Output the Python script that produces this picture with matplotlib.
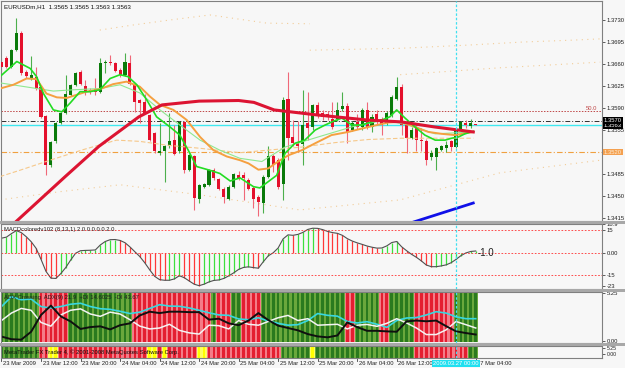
import matplotlib
matplotlib.use("Agg")
import matplotlib.pyplot as plt
from matplotlib import font_manager
from matplotlib.patches import Rectangle
from matplotlib.transforms import blended_transform_factory
import numpy as np

W, H = 625, 368
BG = '#f7f7f7'

_names = {f.name for f in font_manager.fontManager.ttflist}
if 'Liberation Sans Narrow' in _names:
    plt.rcParams['font.family'] = ['Liberation Sans Narrow', 'DejaVu Sans']
    FS = 5.0
else:
    plt.rcParams['font.family'] = ['Liberation Sans', 'DejaVu Sans']
    FS = 4.2

# ---- EURUSDm H1 candles, 23 Mar 04:00 .. 27 Mar 04:00 ----
open_ = [1.3664, 1.3669, 1.3656, 1.3682, 1.3709, 1.3648, 1.3638, 1.3640, 1.3624, 1.3577,
         1.3500, 1.3537, 1.3566, 1.3582, 1.3611, 1.3627, 1.3648, 1.3625, 1.3618, 1.3621,
         1.3616, 1.3662, 1.3664, 1.3661, 1.3651, 1.3643, 1.3661, 1.3628, 1.3603, 1.3600,
         1.3579, 1.3550, 1.3519, 1.3521, 1.3529, 1.3539, 1.3521, 1.3568, 1.3492, 1.3514,
         1.3446, 1.3465, 1.3468, 1.3492, 1.3477, 1.3462, 1.3445, 1.3465, 1.3484, 1.3484,
         1.3475, 1.3463, 1.3449, 1.3439, 1.3481, 1.3514, 1.3507, 1.3470, 1.3604, 1.3544,
         1.3536, 1.3533, 1.3566, 1.3560, 1.3595, 1.3582, 1.3580, 1.3572, 1.3572, 1.3588,
         1.3594, 1.3555, 1.3568, 1.3560, 1.3587, 1.3560, 1.3581, 1.3573, 1.3566, 1.3579,
         1.3604, 1.3624, 1.3563, 1.3542, 1.3560, 1.3539, 1.3537, 1.3512, 1.3512, 1.3523,
         1.3527, 1.3537, 1.3528, 1.3555, 1.3566, 1.3561, 1.3565]
high = [1.3669, 1.3672, 1.3684, 1.3733, 1.3712, 1.3650, 1.3672, 1.3656, 1.3626, 1.3579,
        1.3538, 1.3568, 1.3584, 1.3643, 1.3629, 1.3648, 1.3650, 1.3635, 1.3622, 1.3637,
        1.3670, 1.3666, 1.3674, 1.3663, 1.3653, 1.3677, 1.3674, 1.3630, 1.3605, 1.3613,
        1.3581, 1.3552, 1.3566, 1.3532, 1.3582, 1.3563, 1.3570, 1.3570, 1.3517, 1.3516,
        1.3470, 1.3471, 1.3493, 1.3494, 1.3479, 1.3464, 1.3467, 1.3487, 1.3490, 1.3489,
        1.3479, 1.3466, 1.3451, 1.3484, 1.3530, 1.3517, 1.3510, 1.3607, 1.3648, 1.3571,
        1.3569, 1.3618, 1.3616, 1.3597, 1.3600, 1.3587, 1.3585, 1.3600, 1.3600, 1.3615,
        1.3598, 1.3570, 1.3581, 1.3590, 1.3599, 1.3580, 1.3587, 1.3576, 1.3585, 1.3610,
        1.3640, 1.3628, 1.3566, 1.3560, 1.3566, 1.3558, 1.3541, 1.3523, 1.3528, 1.3532,
        1.3537, 1.3539, 1.3557, 1.3570, 1.3571, 1.3573, 1.3565]
low = [1.3648, 1.3653, 1.3654, 1.3680, 1.3643, 1.3638, 1.3635, 1.3619, 1.3574, 1.3484,
       1.3497, 1.3535, 1.3564, 1.3580, 1.3609, 1.3625, 1.3627, 1.3611, 1.3613, 1.3611,
       1.3614, 1.3645, 1.3659, 1.3647, 1.3640, 1.3641, 1.3627, 1.3584, 1.3566, 1.3580,
       1.3537, 1.3519, 1.3515, 1.3473, 1.3527, 1.3515, 1.3519, 1.3486, 1.3490, 1.3428,
       1.3439, 1.3463, 1.3466, 1.3476, 1.3460, 1.3439, 1.3443, 1.3463, 1.3476, 1.3444,
       1.3460, 1.3431, 1.3418, 1.3423, 1.3479, 1.3489, 1.3462, 1.3444, 1.3507, 1.3530,
       1.3520, 1.3500, 1.3539, 1.3555, 1.3574, 1.3571, 1.3571, 1.3557, 1.3570, 1.3585,
       1.3534, 1.3553, 1.3557, 1.3555, 1.3557, 1.3552, 1.3563, 1.3547, 1.3563, 1.3576,
       1.3602, 1.3547, 1.3518, 1.3540, 1.3521, 1.3521, 1.3499, 1.3508, 1.3491, 1.3521,
       1.3520, 1.3521, 1.3526, 1.3553, 1.3558, 1.3559, 1.3563]
close = [1.3656, 1.3656, 1.3682, 1.3709, 1.3646, 1.3641, 1.3643, 1.3621, 1.3576, 1.3500,
         1.3536, 1.3566, 1.3582, 1.3613, 1.3627, 1.3646, 1.3629, 1.3616, 1.3617, 1.3616,
         1.3661, 1.3663, 1.3661, 1.3649, 1.3643, 1.3664, 1.3629, 1.3600, 1.3598, 1.3582,
         1.3539, 1.3521, 1.3522, 1.3530, 1.3537, 1.3517, 1.3568, 1.3492, 1.3515, 1.3447,
         1.3467, 1.3469, 1.3491, 1.3478, 1.3462, 1.3449, 1.3465, 1.3485, 1.3478, 1.3478,
         1.3462, 1.3446, 1.3441, 1.3481, 1.3513, 1.3500, 1.3465, 1.3603, 1.3542, 1.3535,
         1.3530, 1.3563, 1.3558, 1.3595, 1.3577, 1.3575, 1.3576, 1.3560, 1.3587, 1.3593,
         1.3552, 1.3566, 1.3560, 1.3587, 1.3560, 1.3576, 1.3568, 1.3563, 1.3582, 1.3607,
         1.3624, 1.3563, 1.3542, 1.3555, 1.3539, 1.3537, 1.3508, 1.3518, 1.3526, 1.3530,
         1.3531, 1.3528, 1.3555, 1.3568, 1.3563, 1.3566, 1.3563]

# moving averages read at sample points (bar index, price)
ma_red_x = [0, 3.3, 12.9, 19.7, 27.8, 32.5, 40, 48, 51.1, 55.2, 63.9, 74, 80.9, 87.6, 95.5]
ma_red_y = [1.3388, 1.3412, 1.3481, 1.3529, 1.3576, 1.3595, 1.3601, 1.3602, 1.3599, 1.3587,
            1.3579, 1.3571, 1.3568, 1.3560, 1.3552]
ma_green_x = [-0.3, 3.1, 5.8, 7.1, 8.5, 10.5, 12.2, 13.9, 15.9, 17.9, 19.9, 22, 24, 25.6, 27.4,
              29.4, 31.4, 34.1, 36.1, 37.8, 39.5, 42.2, 44.2, 46.3, 48.3, 51, 52.3, 54, 55.7,
              57.4, 59.4, 61.4, 63.5, 65.5, 67.5, 68.9, 70.9, 72.9, 74.9, 77, 78.6, 80, 81.7,
              83.7, 85.7, 87.8, 89.8, 91.1, 92.5, 93.8, 95.5]
ma_green_y = [1.3640, 1.3664, 1.3653, 1.3640, 1.3613, 1.3587, 1.3584, 1.3598, 1.3616, 1.3616,
              1.3619, 1.3637, 1.3643, 1.3640, 1.3627, 1.3603, 1.3576, 1.3560, 1.3547, 1.3523,
              1.3497, 1.3491, 1.3486, 1.3474, 1.3479, 1.3465, 1.3463, 1.3473, 1.3483, 1.3518,
              1.3534, 1.3539, 1.3555, 1.3563, 1.3570, 1.3574, 1.3563, 1.3563, 1.3568, 1.3571,
              1.3576, 1.3587, 1.3574, 1.3560, 1.3547, 1.3539, 1.3539, 1.3542, 1.3544, 1.3549,
              1.3553]
ma_orange_x = [-0.3, 2.4, 5.1, 7.1, 9.1, 11.2, 13.2, 15.2, 17.2, 19.9, 22.6, 25.3, 28, 30.1,
               32.1, 34.8, 37.5, 40.2, 42.9, 45.6, 48.3, 50, 52, 54, 56, 58.1, 60.8, 63.5,
               66.8, 70.2, 74.3, 78.3, 81, 83.7, 86.4, 89.1, 91.8, 95.5]
ma_orange_y = [1.3621, 1.3627, 1.3637, 1.3636, 1.3613, 1.3607, 1.3606, 1.3611, 1.3616, 1.3620,
               1.3628, 1.3632, 1.3624, 1.3608, 1.3595, 1.3587, 1.3571, 1.3544, 1.3523, 1.3513,
               1.3507, 1.3502, 1.3492, 1.3494, 1.3505, 1.3515, 1.3523, 1.3534, 1.3547, 1.3552,
               1.3560, 1.3567, 1.3568, 1.3560, 1.3552, 1.3549, 1.3547, 1.3552]
ma_pale_x = [-0.3, 10.5, 14.5, 19.9, 24, 28, 32.1, 36.1, 40.2, 44.2, 48.3, 52.7, 57.4, 64.1,
             70.9, 77.6, 82.3, 87.8, 95.5]
ma_pale_y = [1.3630, 1.3617, 1.3619, 1.3621, 1.3627, 1.3614, 1.3587, 1.3563, 1.3539, 1.3523,
             1.3510, 1.3505, 1.3528, 1.3544, 1.3560, 1.3571, 1.3563, 1.3549, 1.3552]
ma_slow_x = [-0.3, 3.7, 9.8, 16.6, 23.3, 28, 33.4, 40.2, 48.3, 60.8, 67.5, 74.3, 81, 87.8, 95.5]
ma_slow_y = [1.3481, 1.3491, 1.3507, 1.3524, 1.3539, 1.3537, 1.3531, 1.3526, 1.3519, 1.3528,
             1.3535, 1.3540, 1.3542, 1.3542, 1.3542]
ma_blue_x = [83.5, 95.5]
ma_blue_y = [1.3409, 1.3439]
dots_a_x = [19.9, 26.6, 34.1, 42.2, 53.7, 62.4]
dots_a_y = [1.3714, 1.3722, 1.3730, 1.3738, 1.3725, 1.3724]
dots_b_x = [62.4, 80.7, 94.2, 105.6, 115.7, 121.2]
dots_b_y = [1.3682, 1.3685, 1.3690, 1.3695, 1.3698, 1.3700]
dots_c_x = [-0.3, 11.8, 24, 40.2, 60.4, 80.7, 100.9, 121.2]
dots_c_y = [1.3444, 1.3457, 1.3468, 1.3452, 1.3428, 1.3444, 1.3487, 1.3507]
dots_d_x = [80.7, 100.9, 121.2]
dots_d_y = [1.3643, 1.3654, 1.3663]

fib_50 = 1.3585
level_black = 1.3570
bid = 1.3563
level_orange = 1.3520
price_ticks = [1.3415, 1.3450, 1.3485, 1.3520, 1.3555, 1.3590, 1.3625, 1.3660, 1.3695, 1.3730]

# ---- MACD colored (8,13,1) ----
macd = [9.5, 10.2, 12.5, 14.5, 13.2, 10.5, 7.2, 2.8, -4.5, -12.5,
        -17.0, -17.2, -14.0, -10.0, -5.0, -0.5, 1.2, 1.4, 1.5, 1.7,
        5.0, 7.3, 8.5, 8.6, 8.0, 6.5, 3.7, 0.5, -2.7, -6.8,
        -11.5, -15.8, -18.0, -18.4, -18.4, -17.5, -15.4, -16.7, -18.9, -21.0,
        -22.0, -21.0, -19.5, -18.5, -18.2, -17.2, -15.5, -13.5, -11.2, -9.9,
        -9.5, -10.0, -10.4, -6.1, -2.2, -0.2, 3.0, 9.0, 11.7, 11.4,
        12.0, 13.3, 15.3, 16.1, 16.0, 15.2, 14.0, 13.2, 12.7, 11.4,
        9.2, 7.6, 6.4, 5.4, 4.3, 3.5, 2.9, 3.0, 4.4, 6.6,
        7.3, 3.8, 1.2, -1.2, -3.2, -5.6, -8.3, -9.4, -9.4, -8.9,
        -8.2, -6.8, -4.6, -2.1, -0.3, 0.7, 1.0]
macd_levels = [15, 0, -15]

# ---- ADX crossing panel (every 2nd bar) ----
adx_x = list(range(0, 97, 2))
adx_cyan = [3.8, 4.85, 4.53, 4.6, 3.8, 3.64, 3.8, 4.05, 4.15, 3.8, 3.57, 3.5, 3.29, 3.05, 3.2,
            3.6, 4.0, 3.85, 3.83, 3.65, 3.4, 3.13, 2.9, 2.86, 2.47, 2.39, 2.6, 2.25, 2.0, 1.8,
            1.86, 2.3, 3.05, 2.86, 2.77, 2.2, 2.04, 2.18, 1.9, 1.57, 2.3, 2.57, 2.62, 2.9, 3.25,
            3.1, 2.7, 2.5, 2.5]
adx_white = [2.3, 3.1, 3.6, 3.4, 2.1, 1.7, 2.9, 3.4, 3.55, 3.0, 2.75, 3.2, 3.0, 2.39, 1.7,
             1.4, 1.5, 1.9, 1.25, 0.98, 0.85, 1.8, 1.75, 1.4, 2.3, 1.9, 1.8, 2.2, 2.6, 2.85,
             2.3, 2.5, 1.8, 1.85, 1.9, 1.4, 1.8, 1.88, 1.68, 2.0, 2.5, 2.04, 1.5, 0.8, 0.8,
             1.3, 2.2, 1.86, 1.5]
adx_black = [0.58, 0.3, 0.25, 1.1, 2.9, 3.9, 2.75, 2.2, 1.4, 1.6, 1.68, 1.35, 1.8, 2.0, 2.85,
             3.25, 3.1, 3.25, 3.25, 3.2, 3.2, 2.4, 2.5, 2.0, 1.8, 2.3, 3.1, 2.35, 1.75, 1.5,
             1.25, 0.85, 0.6, 0.5, 0.7, 2.1, 1.6, 1.2, 1.2, 1.14, 1.1, 2.21, 2.3, 2.22, 2.3,
             1.7, 1.15, 0.96, 0.8]
adx_runs = [('g', 8), ('r', 6), ('g', 13), ('r', 16), ('g', 1), ('r', 3), ('g', 2), ('r', 4),
            ('g', 17), ('r', 2), ('g', 5), ('r', 2), ('g', 5), ('r', 8), ('g', 5)]
strip_runs = [('g', 8), ('r', 2), ('y', 2), ('r', 18), ('y', 2), ('r', 1), ('y', 1), ('r', 6),
              ('y', 2), ('r', 15), ('g', 6), ('y', 1), ('g', 20), ('r', 11), ('g', 2)]

# the 26 Mar 20:00 label sits under the cursor date box, so it is not listed
time_labels = [(0, '23 Mar 2009'), (8, '23 Mar 12:00'), (16, '23 Mar 20:00'), (24, '24 Mar 04:00'),
               (32, '24 Mar 12:00'), (40, '24 Mar 20:00'), (48, '25 Mar 04:00'),
               (56, '25 Mar 12:00'), (64, '25 Mar 20:00'), (72, '26 Mar 04:00'),
               (80, '26 Mar 12:00'), (96, '27 Mar 04:00')]
cursor_bar = 92
cursor_label = '2009.03.27 00:00'

fig = plt.figure(figsize=(6.25, 3.68), dpi=100, facecolor=BG)


def panel(x0, y0, x1, y1):
    ax = fig.add_axes([x0 / W, 1 - y1 / H, (x1 - x0) / W, (y1 - y0) / H])
    ax.set_facecolor(BG)
    ax.set_xlim(-0.1, 121.56)
    ax.set_xticks([])
    for s in ax.spines.values():
        s.set_color('#808080')
        s.set_linewidth(0.8)
    ax.yaxis.tick_right()
    ax.tick_params(axis='y', labelsize=FS, length=2, width=0.5, pad=1.2, colors='#202020')
    return ax


def fx(px):
    return px / W


def fy(py):
    return 1 - py / H


# ---------------- main price panel ----------------
ax = panel(1, 1, 602, 221)
ax.set_ylim(1.34104, 1.37602)
ax.set_yticks(price_ticks)
# 1.3520 is shown by the orange level box instead
ax.set_yticklabels(['' if p == level_orange else '%.4f' % p for p in price_ticks])

for xs, ys in [(dots_a_x, dots_a_y), (dots_b_x, dots_b_y), (dots_c_x, dots_c_y), (dots_d_x, dots_d_y)]:
    ax.plot(xs, ys, color='#f2cc98', lw=0.8, ls=(0, (1, 4)), zorder=1)

ax.axhline(fib_50, color='#c04848', lw=0.7, ls=(0, (1.5, 1.5)), zorder=1)
ax.axhline(level_black, color='#303030', lw=0.7, ls=(0, (5, 2, 1, 2)), zorder=1)
ax.axhline(bid, color='#40e8f0', lw=1.0, zorder=1)
ax.axhline(level_orange, color='#f0a040', lw=0.8, ls=(0, (5, 2, 1, 2)), zorder=1)
ax.text(120.5, fib_50 + 0.00008, '50.0', fontsize=FS, color='#c04848', ha='right', va='bottom')

bars = np.arange(len(close))
o, h, l, c = map(np.array, (open_, high, low, close))
up = c > o
dn = ~up
ax.vlines(bars[up], l[up], h[up], color='#4caf4c', lw=0.8, zorder=2)
ax.vlines(bars[dn], l[dn], h[dn], color='#f06878', lw=0.8, zorder=2)
body_lo = np.minimum(o, c)
body_h = np.maximum(np.abs(c - o), 0.00012)
ax.bar(bars[up], body_h[up], 0.62, body_lo[up], color='#0a7a0a', lw=0, zorder=3)
ax.bar(bars[dn], body_h[dn], 0.62, body_lo[dn], color='#e4102c', lw=0, zorder=3)

ax.plot(ma_slow_x, ma_slow_y, color='#f6c88a', lw=0.8, ls=(0, (4, 2)), zorder=4)
ax.plot(ma_pale_x, ma_pale_y, color='#8fe88f', lw=0.8, zorder=4)
ax.plot(ma_orange_x, ma_orange_y, color='#f5a040', lw=1.4, zorder=4)
ax.plot(ma_green_x, ma_green_y, color='#22dd22', lw=1.2, zorder=5)
ax.plot(ma_red_x, ma_red_y, color='#dc1432', lw=2.2, zorder=5)
ax.plot(ma_blue_x, ma_blue_y, color='#1010e8', lw=2.0, zorder=5)

fig.text(fx(4), fy(6.5), 'EURUSDm,H1  1.3565 1.3565 1.3563 1.3563', fontsize=FS + 0.3,
         color='#101010', va='center')

tr = blended_transform_factory(ax.transAxes, ax.transData)
ax.text(1.003, level_black, '1.3570', transform=tr, fontsize=FS, color='white', va='center',
        ha='left', zorder=10, clip_on=False,
        bbox=dict(boxstyle='square,pad=0.15', fc='black', ec='none'))
ax.text(1.003, bid - 0.0001, '1.3563', transform=tr, fontsize=FS, color='white', va='center',
        ha='left', zorder=9, clip_on=False,
        bbox=dict(boxstyle='square,pad=0.15', fc='black', ec='none'))
ax.text(1.003, level_orange, '1.3520', transform=tr, fontsize=FS, color='#fff0d8', va='center',
        ha='left', zorder=10, clip_on=False,
        bbox=dict(boxstyle='square,pad=0.15', fc='#f4a050', ec='none'))

# ---------------- MACD panel ----------------
ax2 = panel(1, 224, 602, 289)
ax2.set_ylim(-24.2, 18.3)
m = np.array(macd)
rising = np.r_[True, np.diff(m) >= 0]
ax2.vlines(bars[rising], 0, m[rising], color='#3ce03c', lw=0.9)
ax2.vlines(bars[~rising], 0, m[~rising], color='#ff3838', lw=0.9)
ax2.plot(bars, m, color='#505050', lw=0.8)
for lv in macd_levels:
    ax2.axhline(lv, color='#ff3030', lw=0.6, ls=(0, (2, 2)))
ax2.set_yticks([18.9, 15, 0, -15, -22.3])
ax2.set_yticklabels(['18.9', '15', '0.00', '-15', '-23'])
ax2.text(0.5, 15.5, 'MACDcoloredv102 (8,13,1) 2.0 0.0 0.0 2.0', fontsize=FS, color='#202020',
         va='center')
ax2.text(96.3, -0.6, '-1.0', fontsize=7, color='#202020', va='center')

# ---------------- ADX crossing panel ----------------
shades = {'g': ('#6aa83c', '#2a7a1e'), 'r': ('#f47c88', '#e41e30'), 'y': ('#ffff60', '#ffff00')}


def expand(runs):
    out = []
    for s, n in runs:
        out += [s] * n
    return out


ax3 = panel(1, 292, 602, 343)
ax3.set_ylim(-0.107, 5.36)
adx_state = expand(adx_runs)
ax3.bar(bars, 5.25, 1.0, 0, color=[shades[s][0] for s in adx_state], lw=0)
ax3.bar(bars, 5.25, 0.55, 0, color=[shades[s][1] for s in adx_state], lw=0)
ax3.plot(adx_x, adx_cyan, color='#38d8e0', lw=1.2)
ax3.plot(adx_x, adx_white, color='#f4f4f4', lw=1.1)
ax3.plot(adx_x, adx_black, color='#101010', lw=1.4)
ax3.set_yticks([5.25, 0.1])
ax3.set_yticklabels(['5.25', '0.00'])
ax3.text(0.5, 4.75, 'ADX Crossing  ADX(9) 21.9  +DI 14.6025  -DI 43.67', fontsize=FS,
         color='#202020', va='center')

# ---------------- bottom strip ----------------
ax4 = panel(1, 346, 602, 358)
ax4.set_ylim(0, 1)
strip_state = expand(strip_runs)
ax4.bar(bars, 1, 1.0, 0, color=[shades[s][0] for s in strip_state], lw=0)
ax4.bar(bars, 1, 0.55, 0, color=[shades[s][1] for s in strip_state], lw=0)
ax4.set_yticks([0.8, 0.35])
ax4.set_yticklabels(['5.25', '0.00'])
ax4.tick_params(axis='y', labelsize=FS - 0.5)
ax4.text(0.5, 0.5, 'MetaTrader FX Trader 4, \u00a9 2001-2008 MetaQuotes Software Corp.',
         fontsize=FS, color='#101010', va='center')

# cursor (period separator) line through all panels
for a in (ax, ax2, ax3, ax4):
    a.axvline(cursor_bar, color='#40e0f0', lw=0.9, ls=(0, (2, 1.5)), zorder=8)

# panel separators
for y0, y1 in [(221, 224), (289, 292), (343, 346)]:
    fig.patches.append(Rectangle((0, fy(y1)), 1, (y1 - y0) / H, transform=fig.transFigure,
                                 fc='#a8a8a8', ec='none', zorder=0))

# time axis
tt = blended_transform_factory(ax4.transData, fig.transFigure)
for b, lab in time_labels:
    ax4.plot([b, b], [fy(358), fy(361)], transform=tt, color='#404040', lw=0.6, clip_on=False)
    ax4.text(b + 0.35, fy(363.5), lab, transform=tt, fontsize=FS, color='#202020',
             va='center', ha='left', clip_on=False)
ax4.text(cursor_bar, fy(363.5), cursor_label, transform=tt, fontsize=FS, color='white',
         va='center', ha='center', clip_on=False, zorder=20,
         bbox=dict(boxstyle='square,pad=0.25', fc='#20e0f0', ec='none'))

fig.savefig('out.png', dpi=100, facecolor=BG)
